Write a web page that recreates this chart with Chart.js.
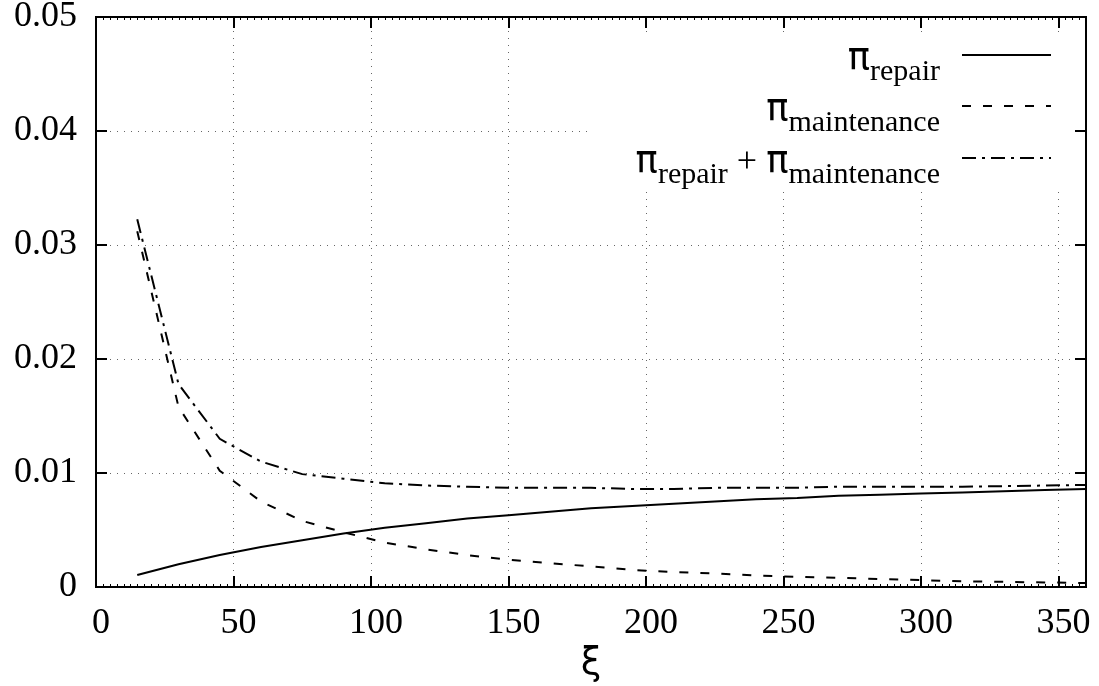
<!DOCTYPE html>
<html>
<head>
<meta charset="utf-8">
<script src="https://cdn.jsdelivr.net/npm/chart.js@4"></script>
<style>
  body { margin: 0; background: #fff; }
</style>
</head>
<body>
<canvas id="costChart" width="1099" height="686"></canvas>
<script>
// ξ sampled every 15 units
const xi = [15, 30, 45, 60, 75, 90, 105, 120, 135, 150, 165, 180,
            195, 210, 225, 240, 255, 270, 285, 300, 315, 330, 345, 360];
const piRepair = [0.00105, 0.0020, 0.0028, 0.0035, 0.0041, 0.0047, 0.0052, 0.0056,
                  0.0060, 0.0063, 0.0066, 0.0069, 0.0071, 0.0073, 0.0075, 0.0077,
                  0.0078, 0.0080, 0.0081, 0.0082, 0.0083, 0.0084, 0.0085, 0.0086];
const piMaintenance = [0.0312, 0.0158, 0.0102, 0.0075, 0.0058, 0.0048, 0.0039, 0.0033,
                       0.0028, 0.0024, 0.0021, 0.0018, 0.0015, 0.0013, 0.0012, 0.0010,
                       0.0009, 0.0008, 0.0007, 0.0006, 0.0005, 0.00045, 0.0004, 0.00035];
const piTotal = [0.03225, 0.0178, 0.0130, 0.0110, 0.0099, 0.0095, 0.0091, 0.0089,
                 0.0088, 0.0087, 0.0087, 0.0087, 0.0086, 0.0086, 0.0087, 0.0087,
                 0.0087, 0.0088, 0.0088, 0.0088, 0.0088, 0.00885, 0.0089, 0.00895];

const xTicks = [0, 50, 100, 150, 200, 250, 300, 350];
const yTicks = [0, 0.01, 0.02, 0.03, 0.04, 0.05];

const SERIF = "'Liberation Serif', 'Times New Roman', serif";
const SANS = "'DejaVu Sans', sans-serif";
const DASHED = [9, 12];
const DASHDOT = [14, 6, 3, 6];

function toPoints(ys) {
  return xi.map((x, i) => ({ x: x, y: ys[i] }));
}

// legend rows: π in sans, subscripts in smaller serif
const keyRows = [
  { parts: [['π', 0], ['repair', 1]], dash: [] },
  { parts: [['π', 0], ['maintenance', 1]], dash: DASHED },
  { parts: [['π', 0], ['repair', 1], [' + ', 2], ['π', 0], ['maintenance', 1]], dash: DASHDOT }
];

function partFont(kind) {
  if (kind === 0) return '37px ' + SANS;
  if (kind === 1) return '30px ' + SERIF;
  return '36px ' + SERIF;
}

// drop the extra room Chart.js keeps for overflowing tick labels
function noOverflow(s) {
  s.paddingTop = 0;
  s.paddingBottom = 0;
  s.paddingLeft = 0;
  s.paddingRight = 0;
}

const gnuFrame = {
  id: 'gnuFrame',
  beforeDatasetsDraw(chart) {
    // opaque key box over the grid
    const ctx = chart.ctx;
    ctx.save();
    ctx.fillStyle = '#fff';
    ctx.fillRect(588, 32, 482, 155);
    ctx.restore();
  },
  afterDraw(chart) {
    const ctx = chart.ctx;
    const a = chart.chartArea;
    const xs = chart.scales.x, ys = chart.scales.y;
    ctx.save();
    ctx.strokeStyle = '#000';

    // minor ticks along x
    ctx.lineWidth = 1;
    ctx.beginPath();
    for (let v = 2.5; v < 360; v += 2.5) {
      const px = Math.round(xs.getPixelForValue(v)) + 0.5;
      ctx.moveTo(px, a.bottom); ctx.lineTo(px, a.bottom - 3);
      ctx.moveTo(px, a.top); ctx.lineTo(px, a.top + 3);
    }
    ctx.stroke();

    // major ticks, mirrored
    ctx.lineWidth = 2;
    ctx.beginPath();
    xTicks.forEach(v => {
      const px = Math.round(xs.getPixelForValue(v));
      ctx.moveTo(px, a.bottom); ctx.lineTo(px, a.bottom - 11);
      ctx.moveTo(px, a.top); ctx.lineTo(px, a.top + 11);
    });
    yTicks.forEach(v => {
      const py = Math.round(ys.getPixelForValue(v));
      ctx.moveTo(a.left, py); ctx.lineTo(a.left + 11, py);
      ctx.moveTo(a.right, py); ctx.lineTo(a.right - 11, py);
    });
    ctx.stroke();

    // border
    ctx.strokeRect(a.left, a.top, a.right - a.left, a.bottom - a.top);

    // key
    const baselines = [69, 120, 172];
    keyRows.forEach((row, i) => {
      let w = 0;
      row.parts.forEach(p => { ctx.font = partFont(p[1]); w += ctx.measureText(p[0]).width; });
      let x = 940 - w;
      ctx.fillStyle = '#000';
      ctx.textBaseline = 'alphabetic';
      ctx.textAlign = 'left';
      row.parts.forEach(p => {
        ctx.font = partFont(p[1]);
        ctx.fillText(p[0], x, baselines[i] + (p[1] === 1 ? 11 : 0));
        x += ctx.measureText(p[0]).width;
      });
      const ly = baselines[i] - 14;
      ctx.lineWidth = 2;
      ctx.setLineDash(row.dash);
      ctx.beginPath();
      ctx.moveTo(962, ly); ctx.lineTo(1051, ly);
      ctx.stroke();
      ctx.setLineDash([]);
    });

    // x axis title
    ctx.font = '37px ' + SANS;
    ctx.textAlign = 'center';
    ctx.fillText('ξ', (a.left + a.right) / 2, 674);
    ctx.restore();
  }
};

new Chart(document.getElementById('costChart'), {
  type: 'scatter',
  data: {
    datasets: [
      { label: 'π repair', data: toPoints(piRepair), borderDash: [] },
      { label: 'π maintenance', data: toPoints(piMaintenance), borderDash: DASHED },
      { label: 'π repair + π maintenance', data: toPoints(piTotal), borderDash: DASHDOT }
    ].map(d => Object.assign(d, {
      showLine: true,
      borderColor: '#000',
      borderWidth: 2,
      pointRadius: 0,
      tension: 0,
      fill: false
    }))
  },
  options: {
    responsive: false,
    animation: false,
    layout: { padding: { left: 0, top: 17, right: 13, bottom: 0 } },
    plugins: { legend: { display: false }, tooltip: { enabled: false } },
    scales: {
      x: {
        type: 'linear',
        min: 0,
        max: 360,
        afterFit: s => { s.height = 99; noOverflow(s); },
        afterBuildTicks: s => { s.ticks = xTicks.map(v => ({ value: v })); },
        grid: { color: '#666', lineWidth: 1, drawTicks: false },
        border: { display: false, dash: [1, 6] },
        ticks: {
          font: { family: SERIF, size: 36 },
          color: '#000',
          padding: 15,
          labelOffset: 5,
          maxRotation: 0,
          callback: v => String(v)
        }
      },
      y: {
        min: 0,
        max: 0.05,
        afterFit: s => { s.width = 96; noOverflow(s); },
        afterBuildTicks: s => { s.ticks = yTicks.map(v => ({ value: v })); },
        grid: { color: '#666', lineWidth: 1, drawTicks: false },
        border: { display: false, dash: [1, 6] },
        ticks: {
          font: { family: SERIF, size: 36 },
          color: '#000',
          padding: 19,
          callback: v => v === 0 ? '0' : v.toFixed(2)
        }
      }
    }
  },
  plugins: [gnuFrame]
});
</script>
</body>
</html>
